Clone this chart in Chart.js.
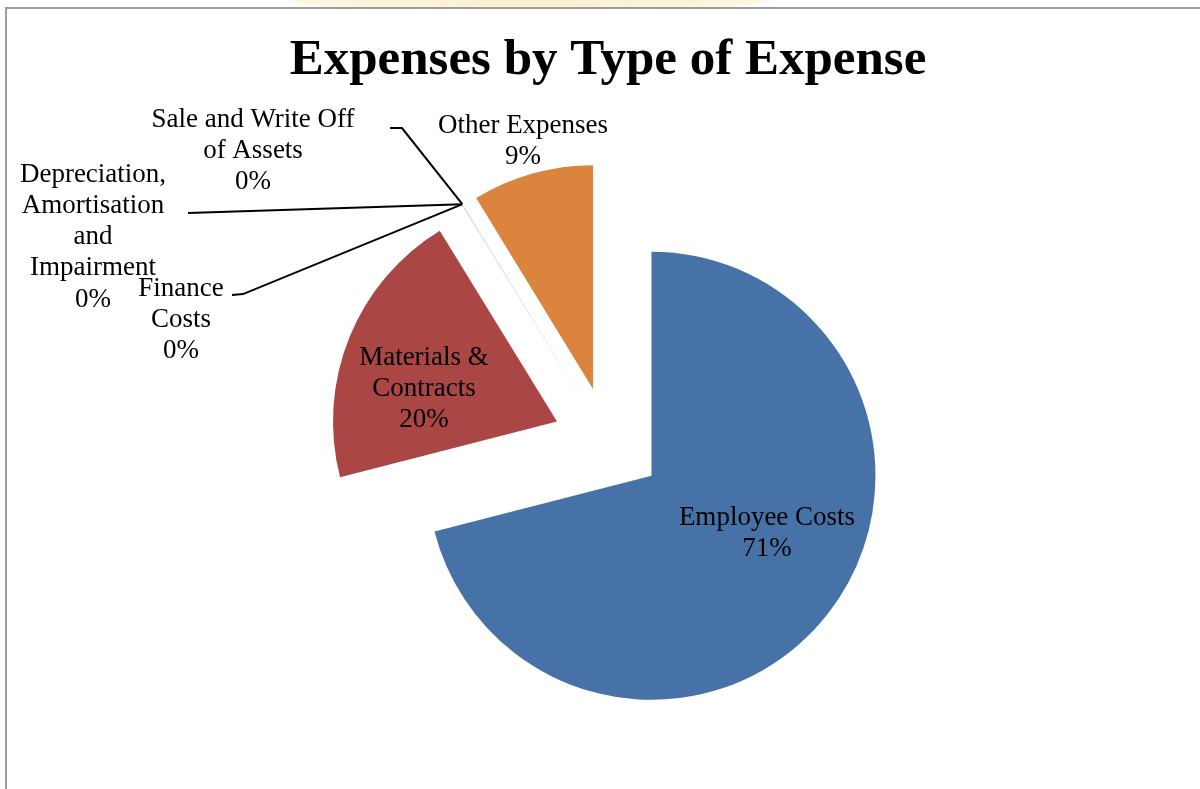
<!DOCTYPE html>
<html>
<head>
<meta charset="utf-8">
<title>Expenses by Type of Expense</title>
<script src="https://cdn.jsdelivr.net/npm/chart.js@4.4.1/dist/chart.umd.min.js"></script>
<style>
  html, body { margin: 0; padding: 0; background: #fff; }
  body { position: relative; width: 1200px; height: 789px; overflow: hidden; }
  .glow {
    position: absolute; left: 250px; top: -52px; width: 560px; height: 70px;
    border-radius: 50%;
    background: radial-gradient(ellipse at center, #fcedc0 0%, #fdf3d8 55%, rgba(255,255,255,0) 100%);
  }
  .frame {
    position: absolute; left: 5px; top: 7px; width: 1210px; height: 800px;
    border-top: 2px solid #9c9c9c; border-left: 2px solid #9c9c9c; background: #fff;
  }
  #wrap { position: absolute; left: 0; top: 0; width: 1200px; height: 789px; }
</style>
</head>
<body>
<div class="glow"></div>
<div class="frame"></div>
<div id="wrap"><canvas id="expenses-chart"></canvas></div>

<script>
    "use strict";

    // Expense categories and their share of total expenses (%)
    const categories = [
        'Employee Costs',
        'Materials & Contracts',
        'Finance Costs',
        'Depreciation, Amortisation and Impairment',
        'Sale and Write Off of Assets',
        'Other Expenses'
    ];
    const expenseShare = [71.0, 20.23, 0.01, 0.01, 0.01, 8.74];
    const sliceColors = ['#4672A7', '#AA4643', '#89A54E', '#80699B', '#3D96AE', '#DB843D'];

    // How each category name is broken over lines
    const labelLines = [
        ['Employee Costs'],
        ['Materials &', 'Contracts'],
        ['Finance', 'Costs'],
        ['Depreciation,', 'Amortisation', 'and', 'Impairment'],
        ['Sale and Write Off', 'of Assets'],
        ['Other Expenses']
    ];

    // Label placement, px from the pie centre; leader = elbow and end of the callout line
    const labelSpots = [
        { x: 159, y: 90 },
        { x: -184, y: -54 },
        { x: -427, y: -123, leader: [[-365, -148], [-376, -147]] },
        { x: -515, y: -206, leader: [[-420, -229]] },
        { x: -355, y: -292, leader: [[-206, -314], [-218, -314]] },
        { x: -85, y: -302 }
    ];

    const EXPLODE = 55;
    const LINE_HEIGHT = 31.3;
    const labelFont = "27px 'Liberation Serif', 'Times New Roman', serif";

    // Pull every slice out along its middle angle, then let the arc draw itself
    const explodedPie = {
        id: 'explodedPie',
        beforeDatasetDraw(chart, args) {
            const ctx = chart.ctx;
            args.meta.data.forEach(function (arc) {
                const mid = (arc.startAngle + arc.endAngle) / 2;
                ctx.save();
                ctx.translate(Math.cos(mid) * EXPLODE, Math.sin(mid) * EXPLODE);
                arc.draw(ctx);
                ctx.restore();
            });
            return false;
        }
    };

    // Category name + percentage, with callout lines for the tiny slices
    const sliceLabels = {
        id: 'sliceLabels',
        afterDatasetsDraw(chart) {
            const ctx = chart.ctx;
            const arcs = chart.getDatasetMeta(0).data;
            const total = expenseShare.reduce((a, b) => a + b, 0);

            ctx.save();
            arcs.forEach(function (arc, i) {
                const spot = labelSpots[i];
                const cx = arc.x, cy = arc.y;

                if (spot.leader) {
                    const mid = (arc.startAngle + arc.endAngle) / 2;
                    const reach = arc.outerRadius + EXPLODE;
                    ctx.beginPath();
                    ctx.moveTo(cx + Math.cos(mid) * reach, cy + Math.sin(mid) * reach);
                    spot.leader.forEach(p => ctx.lineTo(cx + p[0], cy + p[1]));
                    ctx.strokeStyle = '#000';
                    ctx.lineWidth = 2;
                    ctx.stroke();
                }

                const pct = Math.round(expenseShare[i] / total * 100) + '%';
                const lines = labelLines[i].concat([pct]);
                const top = cy + spot.y + 1 - (lines.length - 1) * LINE_HEIGHT / 2;
                ctx.font = labelFont;
                ctx.fillStyle = '#000';
                ctx.textAlign = 'center';
                ctx.textBaseline = 'middle';
                lines.forEach(function (line, k) {
                    ctx.fillText(line, cx + spot.x, top + k * LINE_HEIGHT);
                });
            });
            ctx.restore();
        }
    };

    const ctx = document.getElementById('expenses-chart').getContext('2d');
    new Chart(ctx, {
        type: 'pie',
        data: {
            labels: categories,
            datasets: [{
                data: expenseShare,
                backgroundColor: sliceColors,
                borderWidth: 0,
                radius: 224
            }]
        },
        options: {
            responsive: true,
            maintainAspectRatio: false,
            animation: false,
            layout: {
                padding: { top: 0, left: 16, right: 0, bottom: 5 }
            },
            plugins: {
                legend: { display: false },
                tooltip: { enabled: false },
                title: {
                    display: true,
                    text: 'Expenses by Type of Expense',
                    color: '#000',
                    font: { family: "'Liberation Serif', 'Times New Roman', serif", size: 51, weight: 'bold' },
                    padding: { top: 30, bottom: 9 }
                }
            }
        },
        plugins: [explodedPie, sliceLabels]
    });
</script>
</body>
</html>
